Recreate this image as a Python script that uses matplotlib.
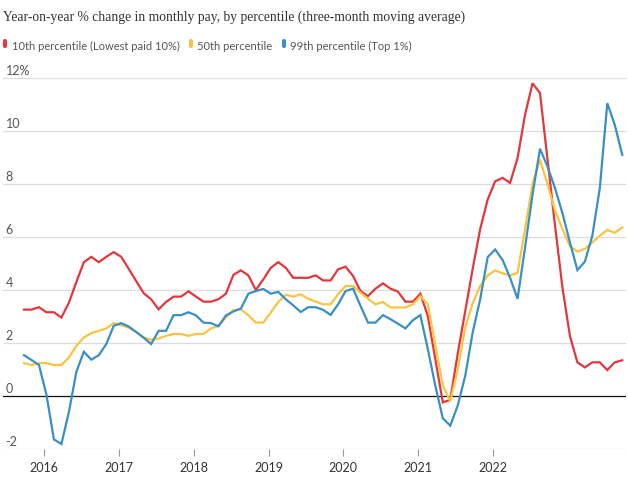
import matplotlib
matplotlib.use("Agg")
import matplotlib.pyplot as plt
from matplotlib.lines import Line2D
from matplotlib.transforms import blended_transform_factory
import numpy as np

title = "Year-on-year % change in monthly pay, by percentile (three-month moving average)"
series_names = ["10th percentile (Lowest paid 10%)", "50th percentile", "99th percentile (Top 1%)"]
colors = ["#e3373d", "#f9c440", "#3a8fc3"]

p10 = [3.26, 3.26, 3.35, 3.16, 3.16, 2.96, 3.52, 4.30, 5.05, 5.25, 5.05, 5.25, 5.43, 5.25, 4.80,
       4.34, 3.88, 3.65, 3.27, 3.55, 3.75, 3.75, 3.95, 3.75, 3.56, 3.56, 3.65, 3.86, 4.57, 4.74,
       4.55, 4.00, 4.40, 4.84, 5.05, 4.84, 4.46, 4.46, 4.46, 4.55, 4.36, 4.36, 4.78, 4.88, 4.53,
       3.96, 3.77, 4.05, 4.25, 4.05, 3.94, 3.56, 3.56, 3.86, 3.02, 1.39, -0.24, -0.15, 1.60, 3.20,
       4.80, 6.30, 7.41, 8.10, 8.23, 8.04, 8.98, 10.61, 11.80, 11.43, 8.94, 6.46, 4.09, 2.27, 1.27,
       1.08, 1.27, 1.27, 0.98, 1.27, 1.35]
p50 = [1.24, 1.17, 1.24, 1.24, 1.17, 1.17, 1.45, 1.89, 2.21, 2.37, 2.46, 2.55, 2.75, 2.67, 2.58,
       2.40, 2.21, 2.12, 2.17, 2.27, 2.34, 2.34, 2.27, 2.34, 2.34, 2.55, 2.65, 2.96, 3.24, 3.27,
       3.05, 2.77, 2.77, 3.15, 3.55, 3.82, 3.75, 3.84, 3.67, 3.56, 3.46, 3.46, 3.84, 4.15, 4.15,
       3.90, 3.67, 3.46, 3.55, 3.34, 3.34, 3.34, 3.46, 3.77, 3.46, 1.90, 0.40, -0.20, 1.00, 2.60,
       3.50, 4.15, 4.55, 4.74, 4.63, 4.55, 4.65, 6.30, 8.00, 8.92, 8.00, 7.00, 6.30, 5.65, 5.45,
       5.55, 5.80, 6.05, 6.27, 6.16, 6.36]
p99 = [1.54, 1.36, 1.17, 0.05, -1.64, -1.81, -0.61, 0.91, 1.67, 1.37, 1.54, 1.96, 2.65, 2.75, 2.62,
       2.42, 2.20, 1.96, 2.46, 2.46, 3.05, 3.05, 3.16, 3.04, 2.77, 2.75, 2.63, 3.04, 3.19, 3.30,
       3.86, 3.96, 4.04, 3.86, 3.93, 3.65, 3.42, 3.17, 3.35, 3.35, 3.25, 3.06, 3.46, 3.96, 4.05,
       3.40, 2.77, 2.77, 3.05, 2.90, 2.73, 2.55, 2.86, 3.05, 1.77, 0.39, -0.84, -1.12, -0.36, 0.76,
       2.40, 3.65, 5.24, 5.53, 5.13, 4.46, 3.67, 5.60, 7.60, 9.33, 8.66, 7.85, 6.90, 5.80, 4.75,
       5.07, 6.05, 7.85, 11.05, 10.23, 9.10]

year_labels = ["2016", "2017", "2018", "2019", "2020", "2021", "2022"]
y_ticks = [-2, 0, 2, 4, 6, 8, 10, 12]

W, H = 628, 484
fig = plt.figure(figsize=(W / 100, H / 100), dpi=100)
ax = fig.add_axes([3 / W, (H - 449) / H, 623 / W, (449 - 78) / H])

x = np.arange(len(p10))
for vals, c in zip([p10, p50, p99], colors):
    ax.plot(x, vals, color=c, lw=1.6, solid_joinstyle="miter", clip_on=False, zorder=3)

ax.set_xlim(-2.81, 80.5)
ax.set_ylim(-2, 12)

for s in ax.spines.values():
    s.set_visible(False)

trans = blended_transform_factory(ax.transAxes, ax.transData)
for v in y_ticks:
    if v == 0:
        ax.axhline(0, color="#111111", lw=0.9, zorder=2)
    else:
        ax.axhline(v, color="#dcdcdc", lw=0.9, zorder=1)
    lab = f"{v}%" if v == 12 else str(v)
    ax.text(0.004, v + 0.03, lab, transform=trans, ha="left", va="bottom",
            fontsize=9, color="#555555", family="Lato")

ax.set_yticks([])
tick_pos = [2.7 + 10 * k for k in range(len(year_labels))]
ax.set_xticks(tick_pos)
ax.set_xticklabels(year_labels, family="Lato", fontsize=9, color="#333333")
ax.tick_params(axis="x", length=5, width=0.8, color="#999999", pad=4)

fig.text(3 / W, 1 - 17 / H, title, ha="left", va="center", fontsize=9.8,
         family="Liberation Serif", color="#333333")

legend_bar_x = [5, 191, 284]
legend_text_x = [12, 197, 290]
for name, c, bx, tx in zip(series_names, colors, legend_bar_x, legend_text_x):
    fig.add_artist(Line2D([bx / W, bx / W], [1 - 45.5 / H, 1 - 41 / H], transform=fig.transFigure,
                          color=c, lw=3.0, solid_capstyle="round"))
    fig.text(tx / W, 1 - 46 / H, name, ha="left", va="center", fontsize=8.0,
             family="Lato", color="#555555")

fig.savefig("out.png", dpi=100)
